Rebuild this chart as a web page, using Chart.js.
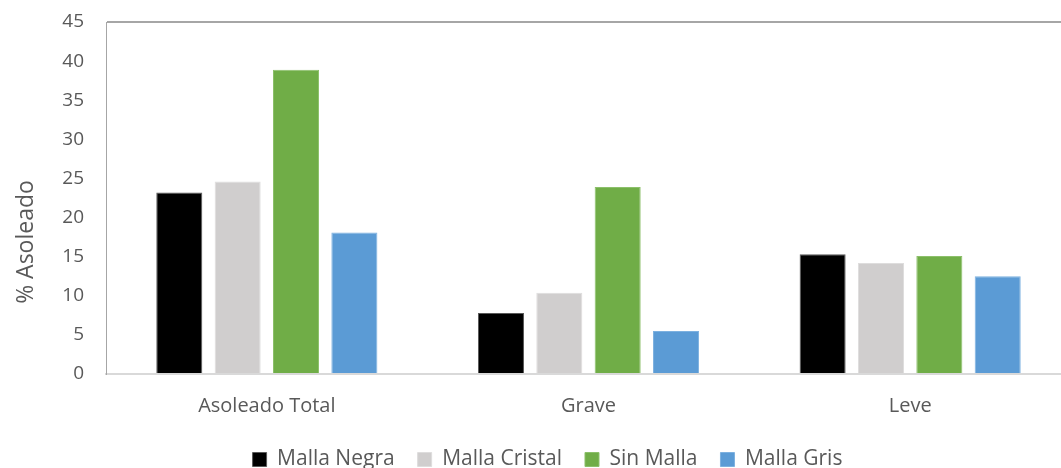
<!DOCTYPE html>
<html>
<head>
<meta charset="utf-8">
<script src="https://cdn.jsdelivr.net/npm/chart.js@4/dist/chart.umd.min.js"></script>
<style>
html,body{margin:0;padding:0;background:#fff;overflow:hidden;width:1061px;height:468px;}
#wrap{position:absolute;left:0;top:0;width:1095px;height:468px;}
</style>
</head>
<body>
<div id="wrap"><canvas id="c"></canvas></div>
<script>
const categories = ["Asoleado Total", "Grave", "Leve"];
const seriesNames = ["Malla Negra", "Malla Cristal", "Sin Malla", "Malla Gris"];
const mallaNegra = [23.2, 7.8, 15.3];
const mallaCristal = [24.6, 10.4, 14.2];
const sinMalla = [38.9, 23.9, 15.1];
const mallaGris = [18.1, 5.5, 12.5];
const yTicks = [0, 5, 10, 15, 20, 25, 30, 35, 40, 45];
const yTitle = "% Asoleado";

const fills = ["#000000", "#D0CECE", "#70AD47", "#5B9BD5"];
const borders = ["#595959", "#DEDDDD", "#8CC06A", "#7DB1E0"];
const values = [mallaNegra, mallaCristal, sinMalla, mallaGris];

const FONT = "'Open Sans', sans-serif";
const TXT = "#595959";

// Y-axis title drawn centred on the whole chart height (as in the original)
const yTitlePlugin = {
  id: "yTitle",
  afterDraw(chart) {
    const ctx = chart.ctx;
    ctx.save();
    ctx.translate(33, chart.height / 2 + 8);
    ctx.rotate(-Math.PI / 2);
    ctx.font = "23px " + FONT;
    ctx.fillStyle = TXT;
    ctx.textAlign = "center";
    ctx.textBaseline = "alphabetic";
    ctx.fillText(yTitle, 0, 0);
    ctx.restore();
  }
};

new Chart(document.getElementById("c"), {
  type: "bar",
  data: {
    labels: categories,
    datasets: seriesNames.map((n, i) => ({
      label: n,
      data: values[i],
      backgroundColor: fills[i],
      borderColor: borders[i],
      borderWidth: 1,
      categoryPercentage: 0.7257,
      barPercentage: 0.789
    }))
  },
  plugins: [yTitlePlugin],
  options: {
    responsive: true,
    maintainAspectRatio: false,
    animation: false,
    devicePixelRatio: 1,
    layout: { padding: { left: 24, right: 24, top: 22, bottom: -12 } },
    plugins: {
      tooltip: { enabled: false },
      legend: {
        position: "bottom",
        labels: {
          boxWidth: 14, boxHeight: 14,
          color: TXT,
          font: { family: FONT, size: 21 },
          padding: 23
        }
      }
    },
    scales: {
      x: {
        afterFit: (s) => { s.height = 52; s.paddingLeft = 0; s.paddingRight = 0; },
        grid: { display: false, drawTicks: false },
        border: { display: true, color: "#D9D9D9", width: 2 },
        ticks: { color: TXT, font: { family: FONT, size: 20 }, padding: 20 }
      },
      y: {
        min: 0, max: 45,
        afterBuildTicks: (s) => { s.ticks = yTicks.map(v => ({ value: v })); },
        afterFit: (s) => { s.width = 82; s.paddingTop = 0; s.paddingBottom = 0; },
        grid: {
          drawTicks: false,
          color: (ctx) => (ctx.tick && ctx.tick.value === 45) ? "#A6A6A6" : "rgba(0,0,0,0)",
          lineWidth: 2
        },
        border: { display: true, color: "#A6A6A6", width: 1 },
        ticks: { color: TXT, font: { family: FONT, size: 19 }, padding: 22 },
        title: { display: false }
      }
    }
  }
});
</script>
</body>
</html>
